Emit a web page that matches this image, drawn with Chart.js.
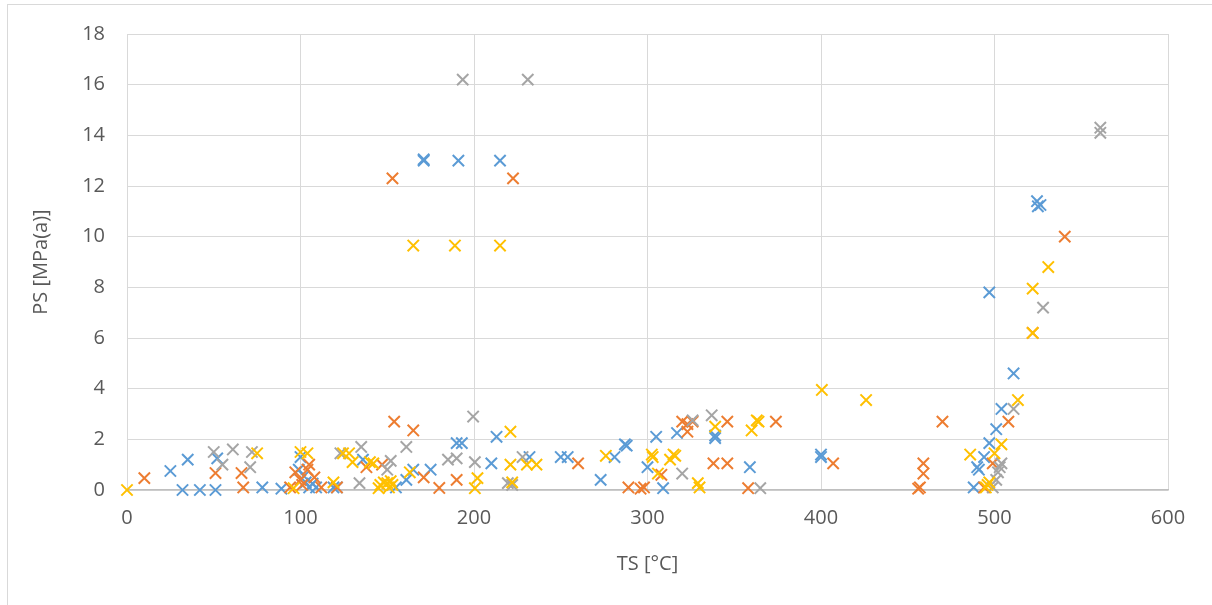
<!DOCTYPE html>
<html>
<head>
<meta charset="utf-8">
<script src="https://cdn.jsdelivr.net/npm/chart.js@4.4.0/dist/chart.umd.min.js"></script>
<style>
  html, body { margin: 0; padding: 0; background: #fff; overflow: hidden; }
  #frame { position: absolute; left: 7px; top: 4px; width: 1300px; height: 700px; border: 1px solid #d9d9d9; }
  #wrap { position: absolute; left: 0; top: 0; width: 1212px; height: 605px; }
</style>
</head>
<body>
<div id="frame"></div>
<div id="wrap"><canvas id="myChart" width="1212" height="605"></canvas></div>
<script>
const ctx = document.getElementById('myChart')

// x ticks 0..600, y ticks 0..18
const xTicks = [0, 100, 200, 300, 400, 500, 600]
const yTicks = [0, 2, 4, 6, 8, 10, 12, 14, 16, 18]

const blueX = [25, 35, 32, 42, 51, 52, 78, 89, 100, 99, 103, 105, 109, 102, 107, 119, 121, 136, 155, 161, 165, 175, 190, 193, 210, 213, 232, 250, 254, 273, 281, 288, 287, 300, 305, 309, 317, 339, 339, 359, 400, 400, 497, 511, 504, 501, 497, 494, 490, 491, 488, 524.5, 526.5, 525, 171, 171, 191, 215]
const blueY = [0.75, 1.2, 0, 0, 0, 1.25, 0.1, 0.05, 1.3, 0.8, 0.3, 0.1, 0.1, 0.55, 0.25, 0.1, 0.1, 1.2, 0.1, 0.4, 0.8, 0.8, 1.85, 1.85, 1.05, 2.1, 1.3, 1.3, 1.3, 0.4, 1.3, 1.75, 1.8, 0.9, 2.1, 0.07, 2.25, 2.15, 2.05, 0.9, 1.3, 1.4, 7.8, 4.6, 3.2, 2.4, 1.85, 1.3, 0.9, 0.8, 0.1, 11.4, 11.25, 11.2, 13.0, 13.05, 13, 13]

const orangeX = [10, 51, 66, 67, 94, 97, 100, 101, 104, 105, 108, 112, 121, 138, 147, 154, 165, 171, 180, 190, 153, 222.5, 260, 289, 296, 298, 308, 320, 323, 326, 323, 338, 346, 346, 358, 374, 407, 459, 459, 457, 456, 470, 508, 499, 494, 540.5, 522]
const orangeY = [0.47, 0.67, 0.67, 0.1, 0.1, 0.7, 0.4, 0.2, 0.8, 1.0, 0.5, 0.1, 0.1, 0.9, 1.0, 2.7, 2.35, 0.5, 0.08, 0.4, 12.3, 12.3, 1.05, 0.1, 0.05, 0.1, 0.6, 2.7, 2.6, 2.7, 2.3, 1.05, 2.7, 1.05, 0.07, 2.7, 1.05, 1.05, 0.65, 0.1, 0.05, 2.7, 2.7, 1.05, 0.1, 10.0, 6.2]

const grayX = [50, 61, 55, 72, 71, 123, 134, 135, 150, 152, 161, 185, 190, 199.5, 200.5, 219.5, 222, 228, 193.5, 231, 320, 326, 337, 365, 499, 501, 502, 503, 504, 511, 528, 561, 561]
const grayY = [1.5, 1.6, 1.0, 1.5, 0.9, 1.45, 0.27, 1.7, 0.8, 1.15, 1.7, 1.2, 1.25, 2.9, 1.1, 0.27, 0.2, 1.3, 16.2, 16.2, 0.65, 2.75, 2.95, 0.07, 0.1, 0.4, 0.7, 0.9, 1.05, 3.2, 7.2, 14.3, 14.1]

const yellowX = [0, 75, 96, 100, 104, 119, 124.5, 128, 130, 140, 142, 145, 146, 148, 150, 151, 152, 153, 163, 200.5, 202, 221, 221, 222, 230.5, 236, 165, 189, 215, 276, 302.5, 303, 306, 313, 315, 316, 329, 330, 339, 360, 363, 364, 400.5, 426, 486, 496, 495, 497, 500, 504, 513.5, 522, 522, 531]
const yellowY = [0, 1.45, 0.07, 1.5, 1.45, 0.3, 1.45, 1.45, 1.1, 1.1, 1.05, 0.07, 0.2, 0.3, 0.27, 0.1, 0.35, 0.2, 0.7, 0.07, 0.47, 2.3, 1.0, 0.3, 1.0, 1.0, 9.65, 9.65, 9.65, 1.35, 1.4, 1.3, 0.65, 1.2, 1.4, 1.35, 0.27, 0.1, 2.5, 2.35, 2.75, 2.7, 3.95, 3.55, 1.4, 0.2, 0.1, 0.3, 1.45, 1.8, 3.55, 6.2, 7.95, 8.8]

const toPoints = (xs, ys) => xs.map((x, i) => ({ x: x, y: ys[i] }))

const series = (label, xs, ys, color, order) => ({
  label: label,
  data: toPoints(xs, ys),
  pointStyle: 'crossRot',
  pointRadius: 8,
  pointHoverRadius: 8,
  borderWidth: 2,
  borderColor: color,
  backgroundColor: color,
  showLine: false,
  clip: false,
  order: order
})

const textColor = '#595959'
const fontFamily = '"Open Sans", "Liberation Sans", sans-serif'

const myChart = new Chart(ctx, {
  type: 'scatter',
  data: {
    datasets: [
      series('Series1', blueX, blueY, '#5b9bd5', 4),
      series('Series2', orangeX, orangeY, '#ed7d31', 3),
      series('Series3', grayX, grayY, '#a5a5a5', 2),
      series('Series4', yellowX, yellowY, '#ffc000', 1)
    ]
  },
  options: {
    responsive: false,
    animation: false,
    layout: { padding: { left: 0, right: 44, top: 33, bottom: 0 } },
    plugins: { legend: { display: false }, tooltip: { enabled: false } },
    scales: {
      x: {
        type: 'linear',
        min: 0,
        max: 600,
        afterBuildTicks: (axis) => { axis.ticks = xTicks.map(v => ({ value: v })) },
        afterFit: (axis) => { axis.height = 115 },
        grid: { color: '#d9d9d9', drawTicks: false },
        border: { color: '#bfbfbf', width: 1.5 },
        ticks: { color: textColor, font: { family: fontFamily, size: 20 }, padding: 16 },
        title: { display: true, text: 'TS [°C]', color: textColor, font: { family: fontFamily, size: 20 }, padding: { top: 0, bottom: 29 } }
      },
      y: {
        type: 'linear',
        min: 0,
        max: 18,
        afterBuildTicks: (axis) => { axis.ticks = yTicks.map(v => ({ value: v })) },
        afterFit: (axis) => { axis.width = 127 },
        grid: { color: '#d9d9d9', drawTicks: false },
        border: { color: '#d9d9d9' },
        ticks: { color: textColor, font: { family: fontFamily, size: 20 }, padding: 22 },
        title: { display: true, text: 'PS [MPa(a)]', color: textColor, font: { family: fontFamily, size: 20 }, padding: { top: 29, bottom: 0 } }
      }
    }
  }
})
</script>
</body>
</html>
